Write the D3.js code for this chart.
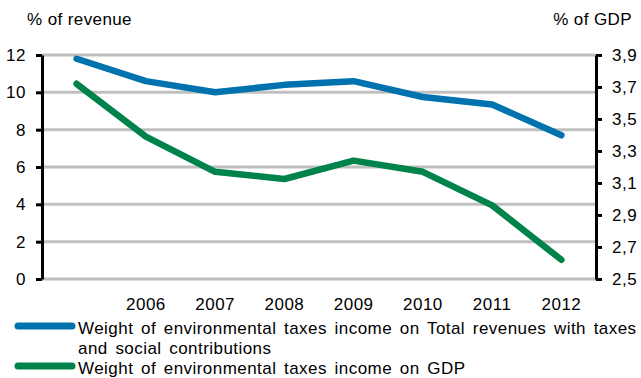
<!DOCTYPE html>
<html>
<head>
<meta charset="utf-8">
<script src="https://cdn.jsdelivr.net/npm/d3@7"></script>
<style>
  html, body { margin: 0; padding: 0; background: #fff; }
  svg text { font-family: "Liberation Sans", Arial, sans-serif; fill: #000; }
</style>
</head>
<body>
<svg id="chart" width="641" height="378"></svg>
<script>
// Years on the x axis (first year is left unlabelled)
const years = ["2005", "2006", "2007", "2008", "2009", "2010", "2011", "2012"];
const yearLabels = ["", "2006", "2007", "2008", "2009", "2010", "2011", "2012"];
// Environmental taxes as % of total revenues (left axis)
const shareOfRevenue = [11.8, 10.6, 10.0, 10.4, 10.6, 9.75, 9.35, 7.7];
// Environmental taxes as % of GDP (right axis)
const shareOfGdp = [3.72, 3.39, 3.17, 3.125, 3.24, 3.17, 2.96, 2.62];
const leftTicks = [0, 2, 4, 6, 8, 10, 12];
const rightTicks = [2.5, 2.7, 2.9, 3.1, 3.3, 3.5, 3.7, 3.9];
const seriesNames = [
  ["Weight of environmental taxes income on Total revenues with taxes", "and social contributions"],
  ["Weight of environmental taxes income on GDP"]
];

const blue = "#0072AE";
const green = "#00834A";
const fontStack = "Liberation Sans, Arial, sans-serif";

const svg = d3.select("#chart");
const plotLeft = 42, plotRight = 596, plotTop = 55, plotBottom = 279;

const x = d3.scaleBand().domain(years).range([plotLeft, plotRight]);
const yL = d3.scaleLinear().domain([0, 12]).range([plotBottom, plotTop]);
const yR = d3.scaleLinear().domain([2.5, 3.9]).range([plotBottom, plotTop]);

// Horizontal gridlines on the left-axis ticks
svg.append("g").selectAll("line").data(leftTicks).join("line")
  .attr("x1", plotLeft).attr("x2", plotRight)
  .attr("y1", d => yL(d)).attr("y2", d => yL(d))
  .attr("stroke", "#c0c0c0").attr("stroke-width", 3);

function styleAxis(g) {
  g.select(".domain").attr("stroke", "#000").attr("stroke-width", 3);
  g.selectAll(".tick line").attr("stroke", "#000").attr("stroke-width", 3);
  g.selectAll(".tick text").attr("font-size", 17).attr("letter-spacing", 0.5)
    .style("font-family", fontStack).attr("fill", "#000");
}

// Left axis
const gL = svg.append("g").attr("transform", `translate(${plotLeft},0)`)
  .call(d3.axisLeft(yL).tickValues(leftTicks).tickSize(6).tickPadding(10).tickSizeOuter(0));
styleAxis(gL);

// Right axis
const fmtComma = d => d3.format(".1f")(d).replace(".", ",");
const gR = svg.append("g").attr("transform", `translate(${plotRight},0)`)
  .call(d3.axisRight(yR).tickValues(rightTicks).tickFormat(fmtComma).tickSize(6).tickPadding(10).tickSizeOuter(0));
styleAxis(gR);

// X axis labels
const gX = svg.append("g").attr("transform", `translate(0,${plotBottom})`)
  .call(d3.axisBottom(x).tickFormat((d, i) => yearLabels[i]).tickSize(0).tickPadding(19));
gX.select(".domain").remove();
gX.selectAll(".tick text").attr("font-size", 17).attr("letter-spacing", 0.5)
  .style("font-family", fontStack).attr("fill", "#000");

// Axis titles
svg.append("text").attr("x", 27).attr("y", 25).attr("font-size", 17)
  .attr("letter-spacing", 0.4).text("% of revenue");
svg.append("text").attr("x", 632).attr("y", 25).attr("font-size", 17)
  .attr("letter-spacing", 0.4).attr("text-anchor", "end").text("% of GDP");

// Lines
const cx = d => x(d) + x.bandwidth() / 2;
const lineL = d3.line().x((d, i) => cx(years[i])).y(d => yL(d));
const lineR = d3.line().x((d, i) => cx(years[i])).y(d => yR(d));

svg.append("path").datum(shareOfRevenue).attr("d", lineL)
  .attr("fill", "none").attr("stroke", blue).attr("stroke-width", 6.5)
  .attr("stroke-linecap", "round").attr("stroke-linejoin", "round");
svg.append("path").datum(shareOfGdp).attr("d", lineR)
  .attr("fill", "none").attr("stroke", green).attr("stroke-width", 6.5)
  .attr("stroke-linecap", "round").attr("stroke-linejoin", "round");

// Legend
const legend = [
  { color: blue, y: 326, lines: seriesNames[0] },
  { color: green, y: 366, lines: seriesNames[1] }
];
const lg = svg.append("g").selectAll("g").data(legend).join("g");
lg.append("line")
  .attr("x1", 18).attr("x2", 72)
  .attr("y1", d => d.y).attr("y2", d => d.y)
  .attr("stroke", d => d.color).attr("stroke-width", 7).attr("stroke-linecap", "round");
lg.append("text")
  .attr("x", 78).attr("y", d => d.y + 8).attr("font-size", 17)
  .attr("letter-spacing", 0.45).attr("word-spacing", 2.5)
  .selectAll("tspan").data(d => d.lines).join("tspan")
  .attr("x", 78).attr("dy", (d, i) => i === 0 ? 0 : 19.5)
  .text(d => d);
</script>
</body>
</html>
